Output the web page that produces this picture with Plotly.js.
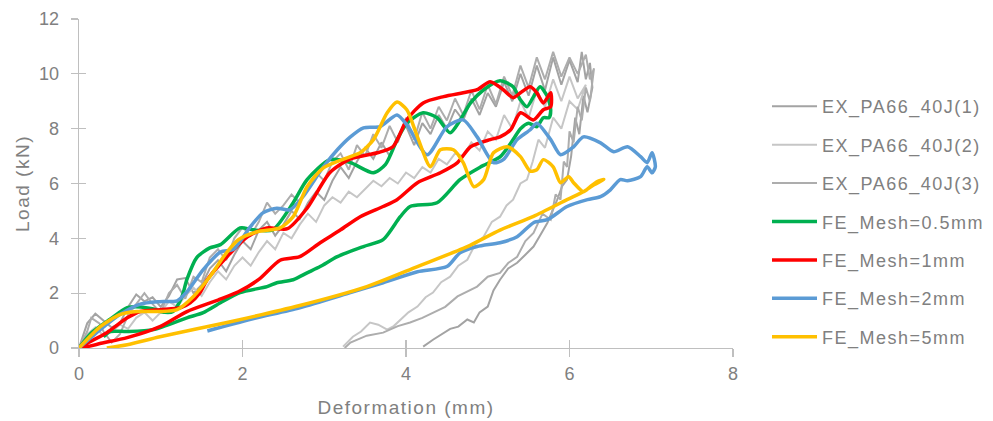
<!DOCTYPE html>
<html>
<head>
<meta charset="utf-8">
<script src="https://cdn.plot.ly/plotly-3.0.1.min.js"></script>
<style>
html,body{margin:0;padding:0;background:#fff;}
#chart{width:993px;height:421px;}
text.legendtext, text.xtitle, text.ytitle { letter-spacing: 1.5px; }
</style>
</head>
<body>
<div id="chart"></div>
<script>
// ---- Data ----
const seriesNames = ["EX_PA66_40J(1)","EX_PA66_40J(2)","EX_PA66_40J(3)","FE_Mesh=0.5mm","FE_Mesh=1mm","FE_Mesh=2mm","FE_Mesh=5mm"];

const ex1X = [0,0.1,0.2,0.3,0.4,0.5,0.6,0.7,0.8,0.9,1.0,1.1,1.2,1.3,1.4,1.5,1.6,1.7,1.8,1.9,2.0,2.1,2.2,2.3,2.4,2.5,2.6,2.7,2.8,2.9,3.0,3.1,3.2,3.3,3.4,3.5,3.6,3.7,3.8,3.9,4.0,4.1,4.2,4.3,4.4,4.5,4.6,4.7,4.8,4.9,5.0,5.1,5.2,5.3,5.4,5.5,5.6,5.7,5.8,5.9,6.0,6.1,6.15,6.2,6.25,6.28,
  6.22,6.17,6.12,6.07,6.02,5.97,5.91,5.85,5.79,5.73,5.64,5.56,5.46,5.36,5.25,5.15,5.07,5.0,4.9,4.83,4.75,4.64,4.54,4.43,4.33,4.21];
const ex1Y = [0,0.9,1.25,1.0,0.75,0.9,1.5,1.95,1.7,1.85,1.5,1.9,2.5,2.55,2.0,2.3,2.9,3.2,2.8,3.4,3.9,3.6,4.3,4.6,4.1,4.5,5.0,4.7,5.3,5.7,5.4,6.1,6.6,6.2,6.8,7.3,6.9,7.5,7.0,7.7,8.1,7.4,8.2,7.8,8.5,8.0,8.7,8.3,9.1,8.5,9.3,8.8,9.7,9.0,10.0,9.2,10.3,9.4,10.6,9.6,10.5,9.7,10.8,9.8,10.4,9.5,
  8.6,9.2,7.8,8.4,7.0,6.14,5.9,5.41,5.0,4.57,4.1,3.7,3.4,3.11,2.9,2.49,2.1,1.51,1.3,0.93,1.04,0.78,0.7,0.5,0.3,0.05];

const ex2X = [0,0.1,0.2,0.3,0.4,0.5,0.6,0.7,0.8,0.9,1.0,1.1,1.2,1.3,1.4,1.5,1.6,1.7,1.8,1.9,2.0,2.1,2.2,2.3,2.4,2.5,2.6,2.7,2.8,2.9,3.0,3.1,3.2,3.3,3.4,3.5,3.6,3.7,3.8,3.9,4.0,4.1,4.2,4.3,4.4,4.5,4.6,4.7,4.8,4.9,5.0,5.1,5.2,5.3,5.4,5.5,5.6,5.7,5.8,5.9,6.0,6.1,6.2,
  6.1,6.0,5.9,5.8,5.7,5.62,5.55,5.48,5.4,5.31,5.23,5.15,5.05,4.95,4.85,4.75,4.64,4.54,4.43,4.33,4.24,4.14,4.03,3.93,3.85,3.77,3.66,3.56,3.45,3.35,3.23];
const ex2Y = [0,0.5,0.75,0.45,0.6,0.85,0.7,1.1,1.3,1.0,1.3,1.7,1.5,1.9,2.2,1.9,2.4,2.8,2.5,3.0,3.3,3.0,3.5,3.9,3.6,4.2,4.0,4.5,4.9,4.6,5.2,5.5,5.3,5.7,5.5,5.8,6.1,5.9,6.2,6.0,6.4,6.2,6.6,6.4,6.9,6.7,7.1,7.0,7.5,7.2,7.9,7.6,8.5,8.0,9.0,8.4,9.4,8.8,9.8,9.0,9.9,9.1,9.6,
  8.7,9.0,8.0,8.4,7.3,7.6,6.8,6.14,6.0,5.41,5.2,4.79,4.6,4.06,3.8,3.22,3.0,2.6,2.4,2.02,1.85,1.51,1.3,1.04,0.8,0.67,0.85,0.93,0.6,0.41,0.05];

const ex3X = [0,0.1,0.15,0.25,0.3,0.4,0.5,0.6,0.7,0.8,0.9,1.0,1.1,1.2,1.3,1.4,1.5,1.6,1.7,1.8,1.9,2.0,2.1,2.2,2.3,2.4,2.5,2.6,2.7,2.8,2.9,3.0,3.1,3.2,3.3,3.4,3.5,3.6,3.7,3.8,3.9,4.0,4.1,4.2,4.3,4.4,4.5,4.6,4.7,4.8,4.9,5.0,5.1,5.2,5.3,5.4,5.5,5.6,5.7,5.8,5.9,6.0,6.1,6.2,6.25,6.3,
  6.25,6.2,6.15,6.1,6.05,6.0,5.97,5.93,5.89,5.83,5.77,5.67,5.56,5.46,5.36,5.25,5.15,5.0,4.87,4.75,4.63,4.48,4.33,4.2,4.05,3.9,3.72,3.52,3.32,3.25];
const ex3Y = [0,0.6,1.1,0.9,0.6,0.2,0.5,1.2,1.6,2.0,1.6,1.3,2.0,2.3,1.8,2.6,2.4,3.3,3.6,3.2,4.0,4.4,4.1,4.6,5.3,4.9,5.2,5.6,5.3,5.9,6.4,6.1,6.8,7.1,6.5,7.4,7.0,7.8,7.3,8.1,7.5,8.4,7.6,8.6,8.0,8.8,8.3,9.1,8.5,9.4,8.7,9.6,8.9,9.9,9.2,10.3,9.5,10.6,9.8,10.8,9.9,10.6,10.0,10.7,9.8,10.2,
  9.0,9.5,8.3,8.8,7.5,7.9,6.6,6.8,5.41,5.6,4.68,4.9,4.2,3.9,3.33,3.1,2.74,2.6,2.24,2.05,1.88,1.5,1.29,1.1,0.93,0.8,0.56,0.45,0.2,0];

const fe05X = [0,0.15,0.38,0.59,0.75,0.91,1.05,1.15,1.26,1.32,1.44,1.6,1.73,1.97,2.13,2.37,2.62,2.79,3.07,3.32,3.6,3.75,3.89,4.01,4.21,4.38,4.54,4.66,4.79,4.95,5.15,5.31,5.4,5.48,5.56,5.64,5.73,5.77,5.75,
  5.68,5.6,5.5,5.4,5.31,5.15,4.91,4.66,4.38,4.05,3.93,3.72,3.48,3.16,2.95,2.79,2.62,2.42,2.3,1.97,1.73,1.52,1.32,0.91,0.59,0.38,0.3];
const fe05Y = [0,0.55,1.05,1.47,1.5,1.42,1.3,1.33,1.88,2.5,3.3,3.65,3.77,4.38,4.31,4.31,5.3,6.14,6.87,6.76,6.39,6.7,7.59,8.2,8.58,8.4,7.85,8.3,8.94,9.42,9.75,9.53,9.05,8.8,9.17,9.53,9.17,8.69,8.4,
  8.4,8.07,8.2,8.0,7.6,6.97,6.6,6.14,5.3,5.16,4.79,3.95,3.7,3.33,2.97,2.74,2.49,2.38,2.24,2.02,1.65,1.29,1.1,0.67,0.6,0.6,0.41];

const fe1X = [0,0.34,0.59,0.75,0.99,1.24,1.36,1.48,1.57,1.81,2.06,2.3,2.55,2.79,3.07,3.32,3.65,3.84,4.01,4.21,4.46,4.7,4.87,5.03,5.19,5.31,5.4,5.52,5.6,5.68,5.77,5.77,
  5.68,5.56,5.4,5.28,5.15,5.03,4.79,4.63,4.42,4.14,3.89,3.72,3.44,3.2,2.95,2.7,2.46,2.2,1.95,1.7,1.32,0.99,0.59,0.3,0];
const fe1Y = [0,0.56,1.1,1.33,1.4,1.47,1.65,2.02,2.5,3.33,4.06,4.38,4.35,5.1,6.4,6.9,7.12,7.34,8.32,8.94,9.17,9.31,9.42,9.71,9.42,9.13,9.31,9.53,9.31,8.94,9.31,8.8,
  8.69,8.32,8.58,7.96,7.7,7.6,7.34,6.76,6.39,6.03,5.41,5.16,4.79,4.31,3.84,3.33,3.2,2.5,2.05,1.75,1.33,0.78,0.38,0.19,0];

const fe2X = [0,0.26,0.5,0.75,0.99,1.2,1.32,1.52,1.73,1.89,2.09,2.25,2.42,2.58,2.74,2.99,3.16,3.32,3.48,3.68,3.89,4.02,4.26,4.5,4.7,4.87,5.07,5.19,5.36,5.52,5.6,5.77,5.89,6.05,6.17,6.38,6.54,6.71,6.87,6.95,7.01,7.05,7.01,6.95,
  6.87,6.71,6.62,6.5,6.38,6.22,5.97,5.73,5.56,5.36,5.15,4.87,4.66,4.5,4.14,3.72,3.32,2.7,2.1,1.57];
const fe2Y = [0,0.67,1.22,1.6,1.69,1.72,2.05,2.86,3.5,3.6,4.4,4.93,5.1,5.04,5.52,6.61,7.23,7.7,8.03,8.07,8.5,8.1,7.05,8.07,8.32,7.7,6.76,6.87,7.6,7.96,8.2,7.6,7.05,7.34,7.7,7.48,7.16,7.34,6.98,6.76,7.12,6.61,6.39,6.61,
  6.25,6.1,6.14,5.77,5.52,5.41,5.16,4.68,4.57,4.06,3.84,3.7,3.47,2.97,2.78,2.38,2.02,1.47,1.05,0.62];

const fe5X = [0,0.26,0.5,0.71,0.99,1.2,1.4,1.6,1.81,1.95,2.18,2.46,2.62,2.79,2.99,3.32,3.44,3.6,3.77,3.89,4.01,4.14,4.3,4.42,4.58,4.7,4.83,4.95,5.07,5.24,5.4,5.52,5.6,5.68,5.8,5.89,5.99,6.05,6.17,6.25,6.34,6.42,
  6.3,6.17,5.97,5.56,5.15,4.75,4.14,3.52,2.7,1.81,0.99,0.59,0.34];
const fe5Y = [0,0.78,1.22,1.33,1.33,1.4,1.88,2.6,3.5,3.95,4.24,4.38,4.79,5.88,6.57,6.98,7.12,7.59,8.58,8.97,8.69,7.7,6.61,7.23,7.23,6.76,5.88,6.14,7.12,7.34,6.98,6.45,6.5,6.87,6.61,6.03,6.25,6.03,5.7,5.88,6.07,6.15,
  5.95,5.7,5.41,4.8,4.3,3.7,2.97,2.24,1.55,0.93,0.41,0.12,0];

const xTicks = [0,2,4,6,8];
const yTicks = [0,2,4,6,8,10,12];

// ---- Styling ----
const txtColor = '#808080';
const axColor = '#bfbfbf';
const font = '"Liberation Sans", Arial, sans-serif';

function tr(x, y, name, color, width, spline) {
  return {
    x: x, y: y, name: name, type: 'scatter', mode: 'lines',
    legendgroup: name,
    line: {color: color, width: width, shape: spline ? 'spline' : 'linear', smoothing: 0.7}
  };
}

const data = [
  tr(ex1X, ex1Y, seriesNames[0], '#a3a3a3', 2, false),
  tr(ex2X, ex2Y, seriesNames[1], '#c6c6c6', 2, false),
  tr(ex3X, ex3Y, seriesNames[2], '#adadad', 2, false),
  tr(fe05X, fe05Y, seriesNames[3], '#00b050', 3.5, true),
  tr(fe1X, fe1Y, seriesNames[4], '#ff0000', 3.5, true),
  tr(fe2X, fe2Y, seriesNames[5], '#5b9bd5', 3.5, true),
  tr(fe5X, fe5Y, seriesNames[6], '#ffc000', 3.5, true),
  {x: [], y: [], xaxis: 'x2', yaxis: 'y2', showlegend: false, type: 'scatter', mode: 'lines'}
];

const layout = {
  width: 993, height: 421,
  margin: {l: 79, r: 260, t: 19, b: 73, autoexpand: false},
  paper_bgcolor: '#fff', plot_bgcolor: '#fff',
  font: {family: font, size: 18, color: txtColor},
  showlegend: true,
  legend: {
    x: 1.052, xanchor: 'left', y: 0.79, yanchor: 'top',
    font: {family: font, size: 18, color: txtColor},
    tracegroupgap: 12, itemwidth: 45, traceorder: 'grouped',
    bgcolor: 'rgba(0,0,0,0)'
  },
  xaxis: {
    range: [0, 8], tickvals: xTicks, ticks: 'outside', ticklen: 8, tickwidth: 1.3, tickcolor: axColor,
    showline: true, linecolor: axColor, linewidth: 1.3, showgrid: false, zeroline: false,
    tickfont: {size: 18, color: txtColor}, ticklabelstandoff: 1, automargin: false,
    title: {text: 'Deformation (mm)', font: {size: 19, color: txtColor}, standoff: 17}
  },
  yaxis: {
    range: [0, 12], tickvals: yTicks, ticks: 'outside', ticklen: 7, tickwidth: 1.3, tickcolor: axColor,
    showline: true, linecolor: axColor, linewidth: 1.3, showgrid: false, zeroline: false,
    tickfont: {size: 18, color: txtColor}, ticklabelstandoff: 8, automargin: false,
    title: {text: 'Load (kN)', font: {size: 19, color: txtColor}, standoff: 4}
  },
  xaxis2: {
    overlaying: 'x', anchor: 'y', range: [0, 8], tickvals: xTicks, ticks: 'inside', ticklen: 8, tickwidth: 1.3,
    tickcolor: axColor, showticklabels: false, showline: false, showgrid: false, zeroline: false
  },
  yaxis2: {
    overlaying: 'y', anchor: 'x', range: [0, 12], tickvals: yTicks, ticks: 'inside', ticklen: 7, tickwidth: 1.3,
    tickcolor: axColor, showticklabels: false, showline: false, showgrid: false, zeroline: false
  }
};

Plotly.newPlot('chart', data, layout, {displayModeBar: false, staticPlot: true});
</script>
</body>
</html>
